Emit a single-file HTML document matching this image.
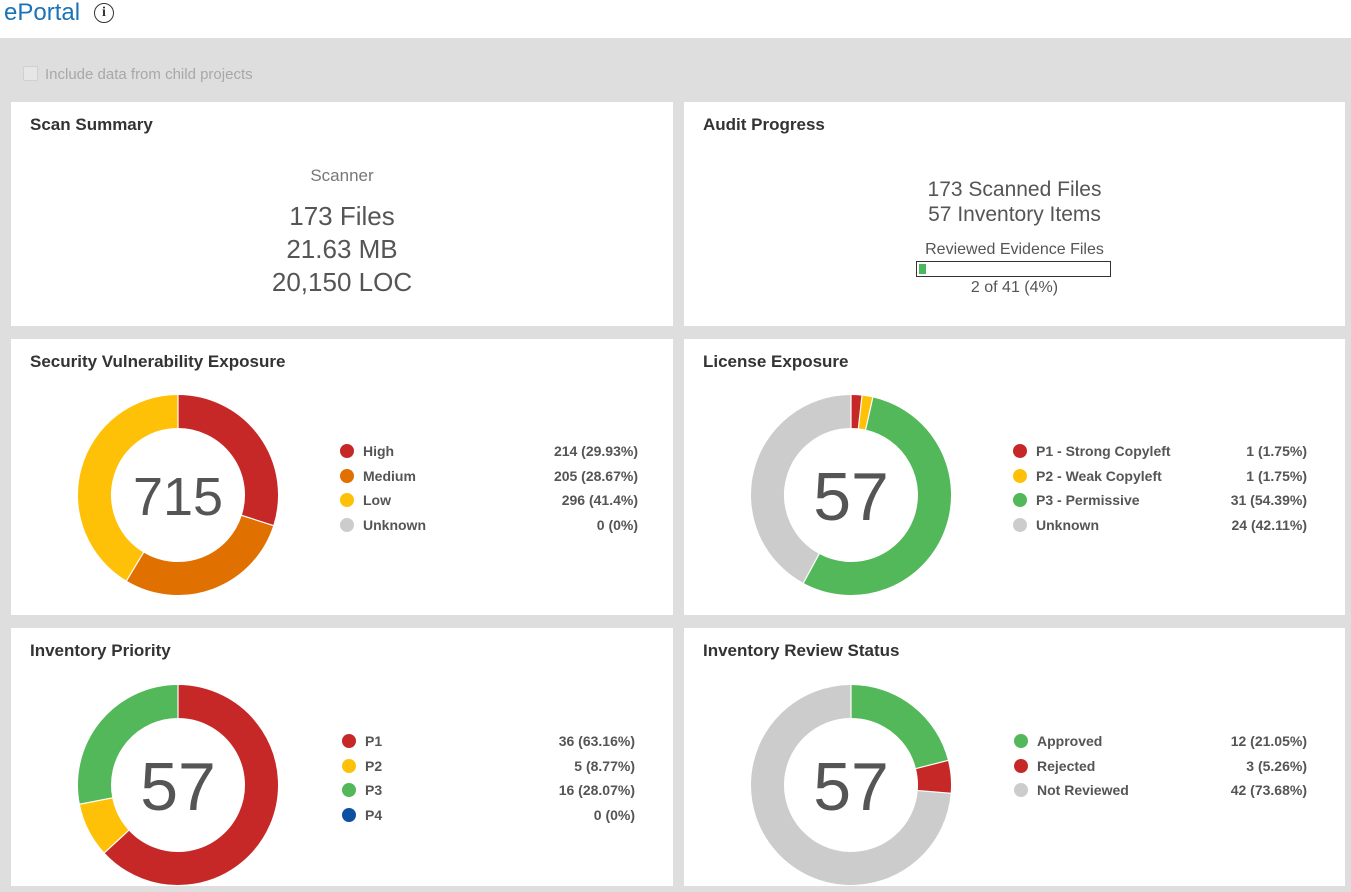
<!DOCTYPE html>
<html><head><meta charset="utf-8"><style>
body{margin:0;width:1351px;height:892px;background:#fff;font-family:"Liberation Sans",Arial,sans-serif;position:relative;overflow:hidden}
.title{position:absolute;left:4px;top:-2px;font-size:24px;color:#1a73b8;line-height:30px}
.info{position:absolute;left:94px;top:3px;width:18px;height:18px;border:1.5px solid #333;border-radius:50%;font:bold 14px "Liberation Serif",serif;text-align:center;line-height:18px;color:#333}
.gray{position:absolute;left:0;top:38px;width:1351px;height:854px;background:#dedede}
.cb{position:absolute;left:23px;top:66px;width:13px;height:13px;background:#e6e6e6;border:1px solid #d0d0d0;border-radius:2px}
.cbl{position:absolute;left:45px;top:66px;font-size:15px;color:#a8a8a8}
.p{position:absolute;background:#fff}
.p h3{position:absolute;left:19px;top:13px;margin:0;font-size:17px;font-weight:bold;color:#333}
.c{position:absolute;left:0;width:100%;text-align:center;color:#555}
.leg{position:absolute;font-size:14px;font-weight:bold;color:#555}
.leg div{position:relative;height:24.5px;line-height:24.5px}
.leg i{position:absolute;left:0;top:5px;width:14px;height:14px;border-radius:50%}
.leg span{position:absolute;left:23px}
.leg b{position:absolute;right:0}
svg{position:absolute}
</style></head><body>
<div class="title">ePortal</div><div class="info">i</div>
<div class="gray"></div>
<div class="cb"></div><div class="cbl">Include data from child projects</div>

<div class="p" style="left:11px;top:102px;width:662px;height:224px"><h3>Scan Summary</h3>
<div class="c" style="top:64px;font-size:17px;color:#777">Scanner</div>
<div class="c" style="top:98px;font-size:26px;line-height:33px">173 Files<br>21.63 MB<br>20,150 LOC</div></div>
<div class="p" style="left:684px;top:102px;width:661px;height:224px"><h3>Audit Progress</h3>
<div class="c" style="top:75px;font-size:21px;line-height:25px">173 Scanned Files<br>57 Inventory Items</div>
<div class="c" style="top:139px;font-size:16px">Reviewed Evidence Files</div>
<div style="position:absolute;left:232px;top:159px;width:193px;height:14px;border:1px solid #333"><div style="position:absolute;left:2px;top:2px;width:7px;height:10px;background:#4cb85c"></div></div>
<div class="c" style="top:177px;font-size:16px">2 of 41 (4%)</div></div>

<div class="p" style="left:11px;top:339px;width:662px;height:276px"><h3>Security Vulnerability Exposure</h3></div>
<div class="p" style="left:684px;top:339px;width:661px;height:276px"><h3>License Exposure</h3></div>
<div class="p" style="left:11px;top:628px;width:662px;height:258px"><h3>Inventory Priority</h3></div>
<div class="p" style="left:684px;top:628px;width:661px;height:258px"><h3>Inventory Review Status</h3></div>
<div id="d"></div>
<script>
const R='#c62828',O='#e07000',Y='#ffc107',G='#52b85a',Gr='#cccccc',B='#0d4fa0';
const charts=[
[178,495,'715',[[R,'High',29.93,'214 (29.93%)'],[O,'Medium',28.67,'205 (28.67%)'],[Y,'Low',41.4,'296 (41.4%)'],[Gr,'Unknown',0,'0 (0%)']],340,638,54,20],
[851,495,'57',[[R,'P1 - Strong Copyleft',1.75,'1 (1.75%)'],[Y,'P2 - Weak Copyleft',1.75,'1 (1.75%)'],[G,'P3 - Permissive',54.39,'31 (54.39%)'],[Gr,'Unknown',42.11,'24 (42.11%)']],1013,1307,68,25],
[178,785,'57',[[R,'P1',63.16,'36 (63.16%)'],[Y,'P2',8.77,'5 (8.77%)'],[G,'P3',28.07,'16 (28.07%)'],[B,'P4',0,'0 (0%)']],342,635,68,25],
[851,785,'57',[[G,'Approved',21.05,'12 (21.05%)'],[R,'Rejected',5.26,'3 (5.26%)'],[Gr,'Not Reviewed',73.68,'42 (73.68%)']],1014,1307,68,25]];
let h='';
for(const [cx,cy,n,items,lx,rx,fs,by] of charts){
 let s=`<svg style="left:${cx-101}px;top:${cy-101}px" width="202" height="202" viewBox="-101 -101 202 202">`;
 let a=-90;
 for(const it of items){ if(!it[2])continue; const sw=it[2]*3.6;
  const f=(d)=>[83.5*Math.cos(d*Math.PI/180),83.5*Math.sin(d*Math.PI/180)];
  const [x1,y1]=f(a),[x2,y2]=f(a+sw);
  s+=`<path d="M${x1} ${y1}A83.5 83.5 0 ${sw>180?1:0} 1 ${x2} ${y2}" fill="none" stroke="${it[0]}" stroke-width="33"/>`;
  a+=sw;}
 a=-90;
 for(const it of items){ if(!it[2])continue; const r=a*Math.PI/180;
  s+=`<line x1="${66*Math.cos(r)}" y1="${66*Math.sin(r)}" x2="${101*Math.cos(r)}" y2="${101*Math.sin(r)}" stroke="#fff" stroke-width="1.2"/>`; a+=it[2]*3.6;}
 s+=`<text x="0" y="${by}" text-anchor="middle" font-family="Liberation Sans,Arial,sans-serif" font-size="${fs}" fill="#555">${n}</text></svg>`;
 h+=s;
 h+=`<div class="leg" style="left:${lx}px;top:${cy-56}px;width:${rx-lx}px">`+items.map(it=>`<div><i style="background:${it[0]}"></i><span>${it[1]}</span><b>${it[3]}</b></div>`).join('')+`</div>`;
}
document.getElementById('d').innerHTML=h;
</script>
</body></html>
